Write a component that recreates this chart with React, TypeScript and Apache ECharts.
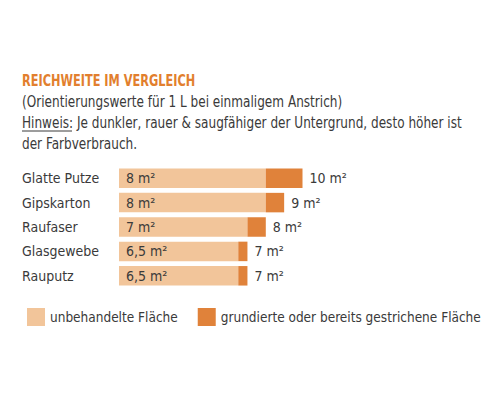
import React, { useEffect, useRef } from 'react';
import * as echarts from 'echarts';

// Data
const categories = ['Glatte Putze', 'Gipskarton', 'Raufaser', 'Glasgewebe', 'Rauputz'];
const untreated = [8, 8, 7, 6.5, 6.5]; // unbehandelte Fläche
const primed = [10, 9, 8, 7, 7]; // grundierte oder bereits gestrichene Fläche
const seriesNames = ['unbehandelte Fläche', 'grundierte oder bereits gestrichene Fläche'];

const LIGHT = '#F2C59A';
const DARK = '#E0823A';
const TEXT = '#3a3a3a';
const FONT = "'Liberation Sans Narrow', 'DejaVu Sans Condensed', 'Roboto', sans-serif";
const SQUEEZE = 0.84; // header lines are condensed to match the narrow type

const fmt = (v: number) => String(v).replace('.', ',') + ' m²';

const headerLine = (text: string, y: number, fill: string, font: string) => ({
  type: 'text',
  x: 22,
  y,
  scaleX: SQUEEZE,
  style: { text, fill, font, verticalAlign: 'top' }
});

const App = () => {
  const chartRef = useRef<HTMLDivElement>(null);

  useEffect(() => {
    document.body.style.margin = '0';
    const chart = echarts.init(chartRef.current!, undefined, { renderer: 'svg' });

    // the dark part is the difference stacked on top of the light part
    const extra = primed.map((v, i) => +(v - untreated[i]).toFixed(2));

    chart.setOption({
      animation: false,
      textStyle: { fontFamily: FONT },
      grid: { left: 119, right: 14, top: 166, bottom: 112 },
      xAxis: {
        type: 'value',
        min: 0,
        max: 20,
        show: false
      },
      yAxis: {
        type: 'category',
        inverse: true,
        data: categories,
        axisLine: { show: false },
        axisTick: { show: false },
        axisLabel: {
          align: 'left',
          margin: 97,
          color: TEXT,
          fontSize: 14,
          fontFamily: FONT
        }
      },
      legend: {
        left: 22,
        top: 303,
        width: 478,
        itemWidth: 18,
        itemHeight: 18,
        itemGap: 20,
        icon: 'rect',
        textStyle: { color: TEXT, fontSize: 13.5, fontFamily: FONT },
        data: seriesNames
      },
      series: [
        {
          name: seriesNames[0],
          type: 'bar',
          stack: 'total',
          barWidth: 19.5,
          itemStyle: { color: LIGHT },
          label: {
            show: true,
            position: 'insideLeft',
            distance: 7,
            color: TEXT,
            fontSize: 14,
            fontFamily: FONT,
            formatter: (p: any) => fmt(untreated[p.dataIndex])
          },
          data: untreated
        },
        {
          name: seriesNames[1],
          type: 'bar',
          stack: 'total',
          barWidth: 19.5,
          itemStyle: { color: DARK },
          label: {
            show: true,
            position: 'right',
            distance: 7,
            color: TEXT,
            fontSize: 14,
            fontFamily: FONT,
            formatter: (p: any) => fmt(primed[p.dataIndex])
          },
          data: extra
        }
      ],
      graphic: [
        headerLine('REICHWEITE IM VERGLEICH', 73, '#E27F2E', `bold 15px ${FONT}`),
        headerLine('(Orientierungswerte für 1 L bei einmaligem Anstrich)', 93, TEXT, `16px ${FONT}`),
        headerLine(
          'Hinweis: Je dunkler, rauer & saugfähiger der Untergrund, desto höher ist',
          114,
          TEXT,
          `16px ${FONT}`
        ),
        {
          type: 'line',
          shape: { x1: 22, y1: 131, x2: 72, y2: 131 },
          style: { stroke: TEXT, lineWidth: 1 }
        },
        headerLine('der Farbverbrauch.', 135, TEXT, `16px ${FONT}`)
      ]
    });

    return () => {
      chart.dispose();
    };
  }, []);

  return <div ref={chartRef} style={{ width: 500, height: 400 }}></div>;
};

export default App;
